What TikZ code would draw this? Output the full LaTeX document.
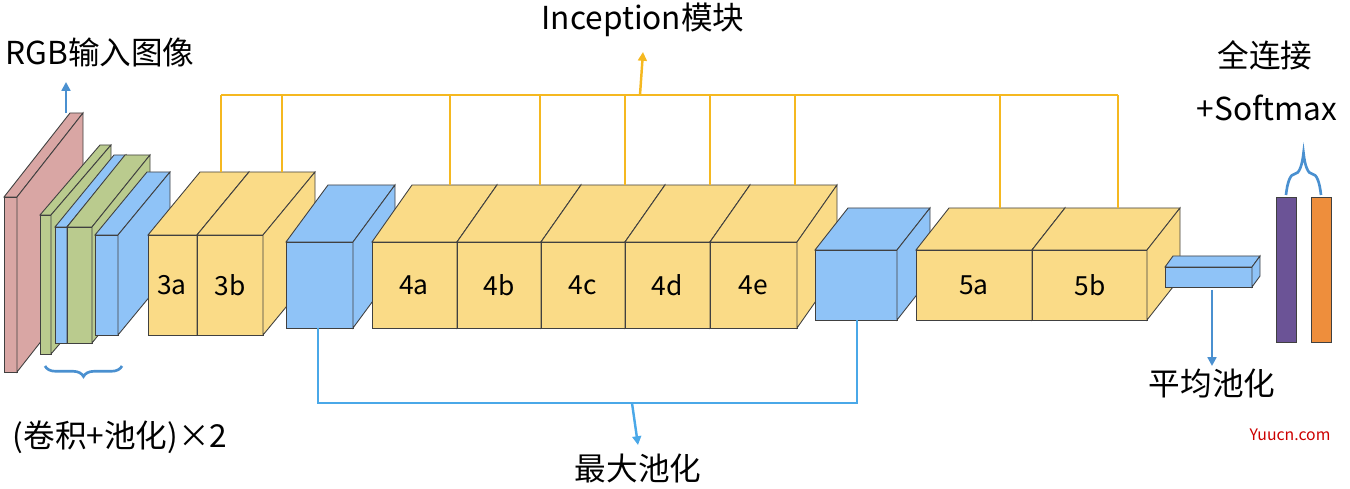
\documentclass[tikz,border=0pt]{standalone}
\usepackage{fontspec}
\setmainfont{Noto Sans CJK SC}
\usetikzlibrary{arrows.meta,decorations.pathreplacing}
\definecolor{rgbred}{RGB}{217,166,164}
\definecolor{convgreen}{RGB}{186,203,142}
\definecolor{poolblue}{RGB}{143,195,247}
\definecolor{incyellow}{RGB}{250,219,135}
\definecolor{fcpurple}{RGB}{107,83,150}
\definecolor{fcorange}{RGB}{238,142,60}
\definecolor{lineyellow}{RGB}{245,184,32}
\definecolor{linecyan}{RGB}{74,168,232}
\definecolor{arrowblue}{RGB}{74,144,208}
% cube: x, y (front top left), width, height, depth dx, depth dy, colour
\newcommand{\layercube}[7]{%
\filldraw[#7, draw=black!75, line width=0.5pt] (#1,#2) rectangle ++(#3,#4);
\filldraw[#7, draw=black!75, line width=0.5pt] (#1,#2) -- ++(#5,#6) -- ++(#3,0) -- ++(-#5,-#6) -- cycle;
\filldraw[#7, draw=black!75, line width=0.5pt] ({#1+#3},#2) -- ++(#5,#6) -- ++(0,#4) -- ++(-#5,-#6) -- cycle;
}
\tikzset{
label_text/.style={font=\fontsize{18}{21}\selectfont, inner sep=0pt},
cube_text/.style={font=\fontsize{15}{17}\selectfont, inner sep=0pt},
link_yellow/.style={draw=lineyellow, line width=1.2pt},
link_cyan/.style={draw=linecyan, line width=1.2pt},
arrow_blue/.style={draw=arrowblue, line width=1.4pt, -{Triangle[length=5pt,width=5pt]}}
}
\begin{document}
\begin{tikzpicture}[x=0.02cm, y=-0.02cm]
\useasboundingbox (0,0) rectangle (1350,489);

%%% Schichten %%%
\layercube{4}{197}{13}{175}{66}{-84}{rgbred}
\layercube{40}{215}{11}{139}{60}{-70}{convgreen}
\layercube{55}{227}{12}{116}{59}{-72}{poolblue}
\layercube{67}{227}{25}{116}{58}{-72}{convgreen}
\layercube{95}{235}{23}{100}{52}{-63}{poolblue}
\layercube{148}{235}{49}{100}{52}{-63}{incyellow}
\layercube{197}{235}{66}{100}{52}{-63}{incyellow}
\layercube{286}{242}{67}{86}{42}{-57}{poolblue}
\foreach \xa/\w in {372/85,457/84,541/84,625/85,710/87}
  \layercube{\xa}{242}{\w}{86}{40}{-57}{incyellow};
\layercube{815}{250}{82}{70}{33}{-42}{poolblue}
\layercube{916}{250}{116}{70}{33}{-42}{incyellow}
\layercube{1032}{250}{115}{70}{33}{-42}{incyellow}
\layercube{1165}{267}{87}{20}{8}{-11}{poolblue}
\filldraw[fcpurple, draw=black!75] (1276,197) rectangle (1296,342);
\filldraw[fcorange, draw=black!75] (1311,197) rectangle (1331,342);

%%% Beschriftung Wuerfel %%%
\node[cube_text] (n3a) at (172,285) {3a};
\node[cube_text] (n3b) at (230,285) {3b};
\node[cube_text] (n4a) at (414,285) {4a};
\node[cube_text] (n4b) at (499,285) {4b};
\node[cube_text] (n4c) at (583,285) {4c};
\node[cube_text] (n4d) at (667,285) {4d};
\node[cube_text] (n4e) at (753,285) {4e};
\node[cube_text] (n5a) at (974,285) {5a};
\node[cube_text] (n5b) at (1090,285) {5b};

%%% Texte %%%
\node[label_text] (inception) at (643,20) {Inception模块};
\node[label_text] (rgb) at (100,52) {RGB输入图像};
\node[label_text] (convpool) at (120,437) {(卷积+池化)×2};
\node[label_text] (maxpool) at (638,468) {最大池化};
\node[label_text] (avgpool) at (1212,384) {平均池化};
\node[label_text] (fc) at (1265,55) {全连接};
\node[label_text] (softmax) at (1267,108) {+Softmax};
\node[font=\fontsize{9}{11}\selectfont, text=red!80!black] (mark) at (1290,435) {Yuucn.com};

%%% Verbindungen %%%
\coordinate (ytop) at (640,95);
\coordinate (btop) at (632,403);
\draw[link_yellow] (221,95) -- (1118,95);
\foreach \xa/\ya in {221/172,282/172,450/185,540/185,625/185,710/185,795/185,1000/208,1118/208}
  \draw[link_yellow] (\xa,95) -- (\xa,\ya);
\draw[arrow_blue, draw=lineyellow] (ytop) -- (inception.south |- 0,52);
\draw[link_cyan] (318,328) -- (318,403) -- (857,403) -- (857,320);
\draw[arrow_blue, draw=linecyan] (btop) -- (maxpool.north |- 0,445);
\draw[arrow_blue] (66,113) -- (66,82);
\draw[arrow_blue] (1212,290) -- (avgpool.north |- 0,366);

%%% Klammern %%%
\draw[arrowblue, line width=1.5pt, decorate, decoration={brace, amplitude=6pt}] (122,366) -- (45,366);
\draw[arrowblue, line width=1.5pt, decorate, decoration={brace, amplitude=24pt}] (1286,195) -- (1321,195);
\end{tikzpicture}
\end{document}
